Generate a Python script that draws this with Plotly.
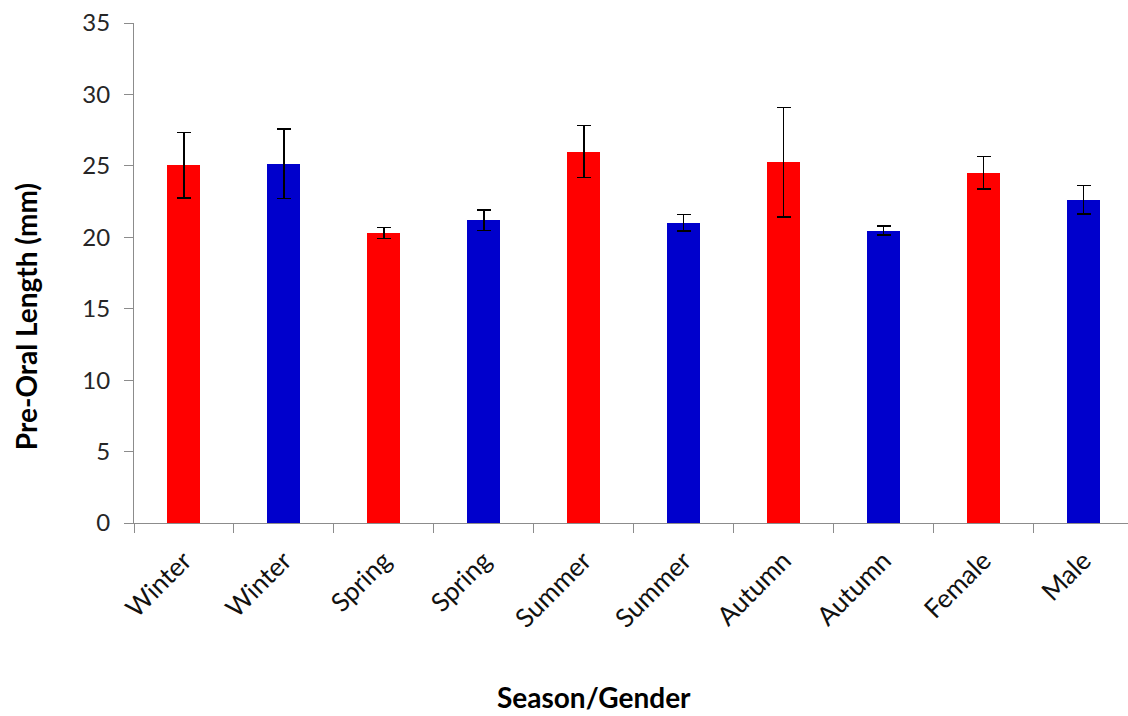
import plotly.graph_objects as go

# Pre-oral length by season and gender (mean ± SD)
categories = ["Winter", "Winter", "Spring", "Spring", "Summer",
              "Summer", "Autumn", "Autumn", "Female", "Male"]
means = [25.05, 25.15, 20.3, 21.2, 26.0, 21.03, 25.25, 20.47, 24.52, 22.62]
errors = [2.3, 2.42, 0.4, 0.72, 1.83, 0.58, 3.82, 0.32, 1.13, 0.99]
colors = ["#FF0000", "#0000CC", "#FF0000", "#0000CC", "#FF0000",
          "#0000CC", "#FF0000", "#0000CC", "#FF0000", "#0000CC"]
y_ticks = [0, 5, 10, 15, 20, 25, 30, 35]

positions = list(range(len(categories)))
font_family = "Lato, 'Open Sans', sans-serif"
axis_color = "#8C8C8C"

fig = go.Figure(
    go.Bar(
        x=positions,
        y=means,
        width=0.33,
        marker=dict(color=colors, line=dict(width=0)),
        error_y=dict(type="data", array=errors, visible=True,
                     color="black", thickness=1.5, width=7),
        showlegend=False,
    )
)

fig.update_layout(
    width=1128,
    height=716,
    margin=dict(l=133.5, r=0, t=22.7, b=193.3),
    paper_bgcolor="white",
    plot_bgcolor="white",
    font=dict(family=font_family, color="#262626"),
    bargap=0,
)

fig.update_xaxes(
    range=[-0.5, 9.445],
    tickmode="array",
    tickvals=positions,
    ticktext=categories,
    tickangle=-45,
    ticks="",
    ticklabelstandoff=11,
    tickfont=dict(size=26, color="#111111"),
    showline=True,
    linecolor=axis_color,
    linewidth=1.2,
    showgrid=False,
    zeroline=False,
    minor=dict(tickvals=[p - 0.5 for p in positions] + [9.5],
               ticks="outside", ticklen=9, tickcolor=axis_color,
               tickwidth=1.2, showgrid=False),
)

fig.update_yaxes(
    range=[0, 35],
    tickmode="array",
    tickvals=y_ticks,
    ticks="outside",
    ticklen=9,
    ticklabelstandoff=9,
    tickcolor=axis_color,
    tickwidth=1.2,
    tickfont=dict(size=24, color="#262626"),
    showline=True,
    linecolor=axis_color,
    linewidth=1.2,
    showgrid=False,
    zeroline=False,
)

# Axis titles
fig.add_annotation(
    text="<b>Pre-Oral Length (mm)</b>",
    xref="paper", yref="paper",
    x=-0.109, y=0.413,
    xanchor="center", yanchor="middle",
    textangle=-90, showarrow=False,
    font=dict(size=28, color="black", family=font_family),
)
fig.add_annotation(
    text="<b>Season/Gender</b>",
    xref="paper", yref="paper",
    x=0.463, y=-0.386,
    xanchor="center", yanchor="bottom",
    showarrow=False,
    font=dict(size=28, color="black", family=font_family),
)

fig.write_html("out.html")
